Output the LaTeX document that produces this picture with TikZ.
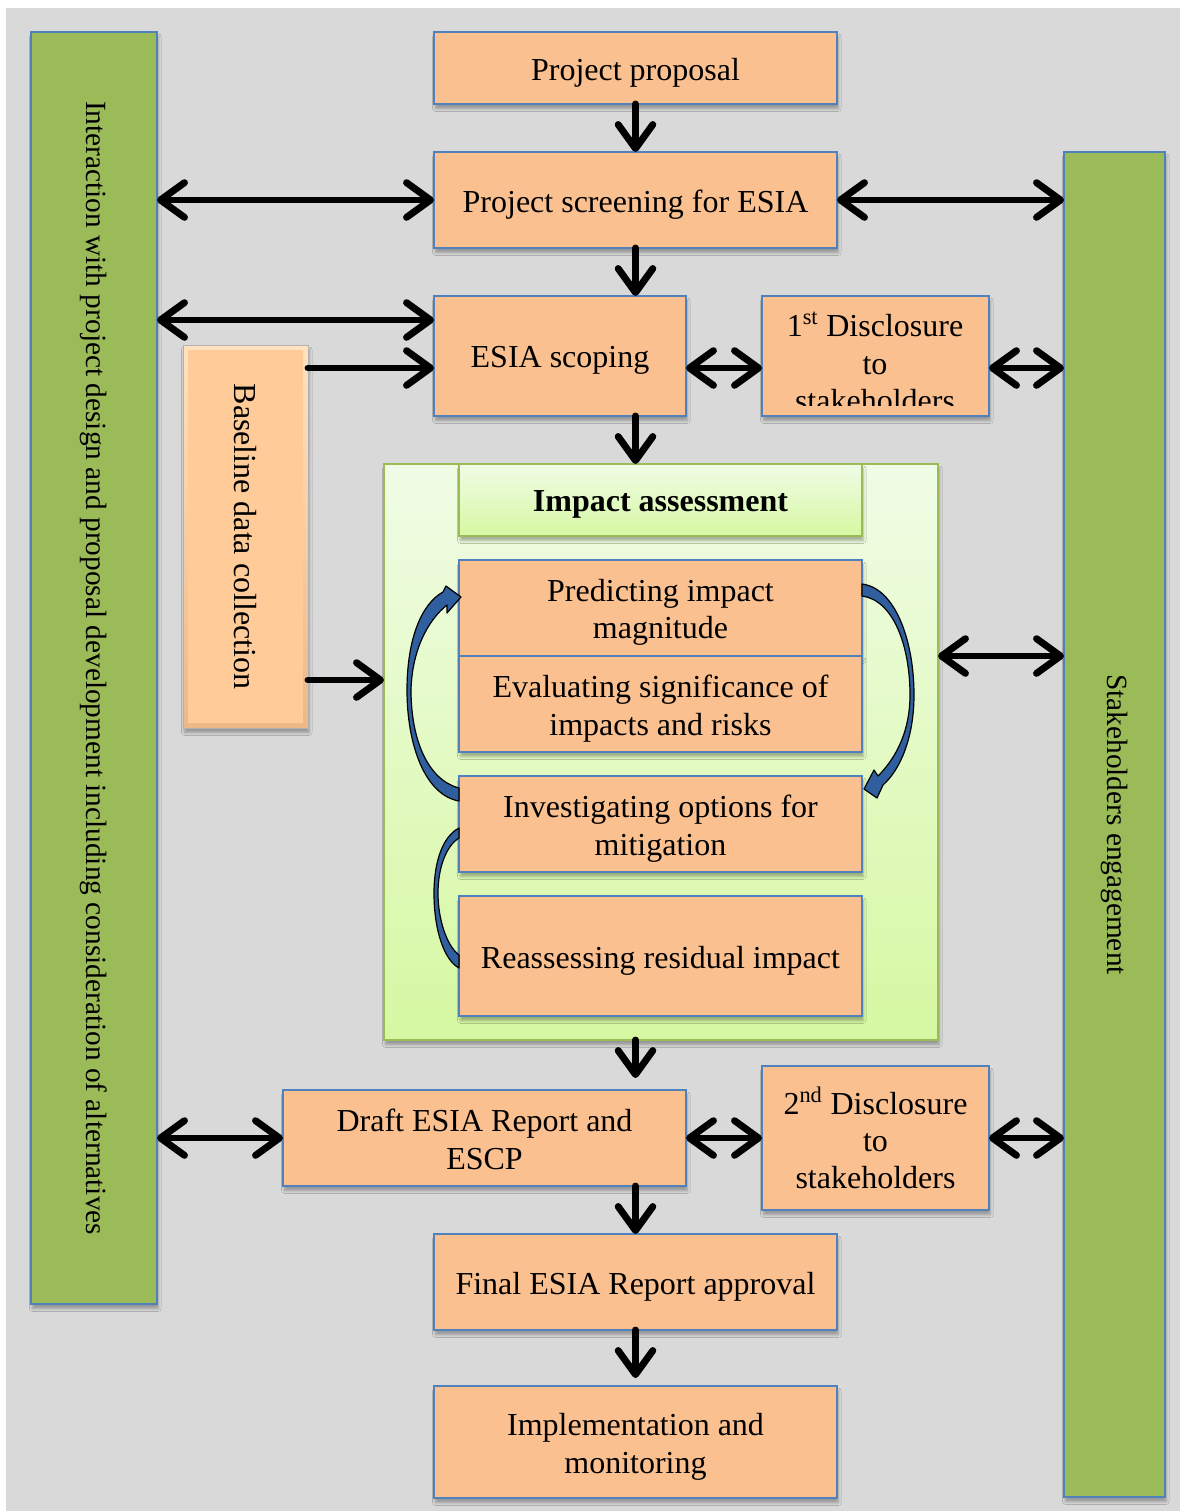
\documentclass[tikz,border=0pt]{standalone}
\usepackage{fontspec}
\setmainfont{Liberation Serif}
\usetikzlibrary{arrows.meta,fit,calc,shadows.blur}
\definecolor{bg}{HTML}{D9D9D9}
\definecolor{gbar}{HTML}{9BBB59}
\definecolor{bblue}{HTML}{4F81BD}
\definecolor{ofill}{HTML}{FAC090}
\definecolor{gtop}{HTML}{F0FCE6}
\definecolor{gbot}{HTML}{D6F8A2}
\definecolor{cblue}{HTML}{2F5F9F}
\definecolor{blface}{HTML}{FFCC99}
\definecolor{bllight}{HTML}{FFE2C0}
\definecolor{bldark}{HTML}{EDB886}
\newcommand\myfs{\fontsize{24}{28}\selectfont}
\newcommand\myrotfs{\fontsize{22}{26}\selectfont}
\begin{document}
\begin{tikzpicture}[x=0.75pt,y=-0.75pt,
  every node/.style={inner sep=0pt, outer sep=0pt},
  sh/.style={blur shadow={shadow xshift=1pt, shadow yshift=-3.5pt, shadow blur radius=2pt, shadow opacity=30}},
  obox/.style={draw=bblue, line width=1.4pt, fill=ofill, sh},
  gbox/.style={draw=bblue, line width=1.4pt, fill=gbar, sh},
  abox/.style={draw=gbar, line width=1.5pt, top color=gtop, bottom color=gbot, sh},
  txt/.style={align=center, font=\myfs, yshift=-3.5pt},
  mytip/.tip={Straight Barb[length=18pt,width=26pt,line join=round,line cap=round]},
  arr/.style={line width=5.2pt, line cap=round, -mytip},
  darr/.style={line width=5.2pt, line cap=round, mytip-mytip},
  curv/.style={fill=cblue, draw=black, line width=0.9pt, line join=round}
]
\useasboundingbox (0,0) rectangle (1180,1511);
\fill[white] (0,0) rectangle (1180,1511);
\fill[bg] (6,8) rectangle (1180,1511);

% side bars
\node[gbox, fit={(31,32)(157,1304)}] (lb) {};
\node[rotate=-90, font=\myrotfs] (lbt) at (lb.center) {Interaction with project design and proposal development including consideration of alternatives};
\node[gbox, fit={(1064,152)(1165,1497)}] (rb) {};
\node[rotate=-90, font=\myrotfs] (rbt) at (rb.center) {Stakeholders engagement};

% main boxes
\node[obox, fit={(434,32)(837,104)}] (pp) {};
\node[txt] (ppt) at (pp.center) {Project proposal};
\node[obox, fit={(434,152)(837,248)}] (scr) {};
\node[txt] (scrt) at (scr.center) {Project screening for ESIA};
\node[obox, fit={(434,296)(686,416)}] (sc) {};
\node[txt] (sct) at (sc.center) {ESIA scoping};
\node[obox, fit={(762,296)(989,416)}] (d1) {};
\begin{scope}
  \clip (762,296) rectangle (989,405);
  \node[txt, yshift=3.5pt] (d1t) at (875,362) {1\textsuperscript{st} Disclosure\\to\\stakeholders};
\end{scope}

% baseline
\node[fit={(183,345)(308,728)}, draw=black!30, line width=0.6pt, top color=bllight, bottom color=bldark, sh] (bl) {};
\fill[blface] ($(bl.north west)+(5,5)$) rectangle ($(bl.south east)+(-5,-5)$);
\node[rotate=-90, font=\myfs] (blt) at (bl.center) {Baseline data collection};

% impact assessment
\node[abox, fit={(384,464)(938,1040)}] (ia) {};
\node[abox, fit={(459,464)(862,536)}] (iah) {};
\node[txt, font=\myfs\bfseries] (iaht) at (iah.center) {Impact assessment};
\node[obox, fit={(459,560)(862,656)}] (pr) {};
\node[txt] (prt) at (pr.center) {Predicting impact\\magnitude};
\node[obox, fit={(459,656)(862,752)}] (ev) {};
\node[txt] (evt) at (ev.center) {Evaluating significance of\\impacts and risks};
\node[obox, fit={(459,776)(862,872)}] (inv) {};
\node[txt] (invt) at (inv.center) {Investigating options for\\mitigation};
\node[obox, fit={(459,896)(862,1016)}] (re) {};
\node[txt] (ret) at (re.center) {Reassessing residual impact};

% lower boxes
\node[obox, fit={(283,1090)(686,1186)}] (dr) {};
\node[txt, yshift=2.5pt] (drt) at (dr.center) {Draft ESIA Report and\\ESCP};
\node[obox, fit={(762,1066)(989,1210)}] (d2) {};
\node[txt, yshift=3.5pt] (d2t) at (d2.center) {2\textsuperscript{nd} Disclosure\\to\\stakeholders};
\node[obox, fit={(434,1234)(837,1330)}] (fin) {};
\node[txt] (fint) at (fin.center) {Final ESIA Report approval};
\node[obox, fit={(434,1386)(837,1498)}] (imp) {};
\node[txt] (impt) at (imp.center) {Implementation and\\monitoring};

% curved arrows
\filldraw[curv] (459,801) .. controls (425,795) and (407,745) .. (407,690)
  .. controls (407,640) and (421,604) .. (443,592)
  -- (446,586) -- (461,597) -- (447,613) -- (447,605)
  .. controls (428,620) and (412,650) .. (411,690)
  .. controls (411,740) and (428,780) .. (459,788) -- cycle;
\filldraw[curv] (862,584) .. controls (895,588) and (914,640) .. (914,695)
  .. controls (914,738) and (900,770) .. (883,785)
  -- (877,798) -- (864,789) -- (874,770) -- (878,776)
  .. controls (897,757) and (910,730) .. (910,695)
  .. controls (910,645) and (893,600) .. (862,596) -- cycle;
\filldraw[curv] (459,828) .. controls (440,838) and (434,868) .. (434,893)
  .. controls (434,930) and (444,960) .. (459,968) -- (459,955)
  .. controls (447,946) and (438,920) .. (438,893)
  .. controls (438,868) and (446,846) .. (459,838) -- cycle;

% black arrows
\draw[arr] (pp.south) -- (scr.north);
\draw[darr] (scr.west -| lb.east) -- (scr.west);
\draw[darr] (scr.east) -- (scr.east -| rb.west);
\draw[arr] (scr.south) -- (scr.south |- sc.north);
\coordinate (y320) at ($(sc.north west)!0.2!(sc.south west)$);
\draw[darr] (y320 -| lb.east) -- (y320);
\coordinate (y368) at ($(sc.south west)!0.4!(sc.north west)$);
\draw[arr] (y368 -| bl.east) -- (y368);
\draw[darr] (y368 -| sc.east) -- (y368 -| d1.west);
\draw[darr] (y368 -| d1.east) -- (y368 -| rb.west);
\draw[arr] (pp.center |- sc.south) -- (pp.center |- ia.north);
\coordinate (y680) at ($(bl.south east)+(0,-48)$);
\draw[arr] (y680) -- (y680 -| ia.west);
\draw[darr] (ev.north -| ia.east) -- (ev.north -| rb.west);
\draw[arr, shorten >=9pt] (pp.center |- ia.south) -- (pp.center |- dr.north);
\draw[darr] (dr.west -| lb.east) -- (dr.west);
\draw[darr] (dr.east) -- (d2.west);
\draw[darr] (d2.east) -- (d2.east -| rb.west);
\draw[arr] (pp.center |- dr.south) -- (fin.north);
\draw[arr, shorten >=6pt] (fin.south) -- (imp.north);
\end{tikzpicture}
\end{document}
